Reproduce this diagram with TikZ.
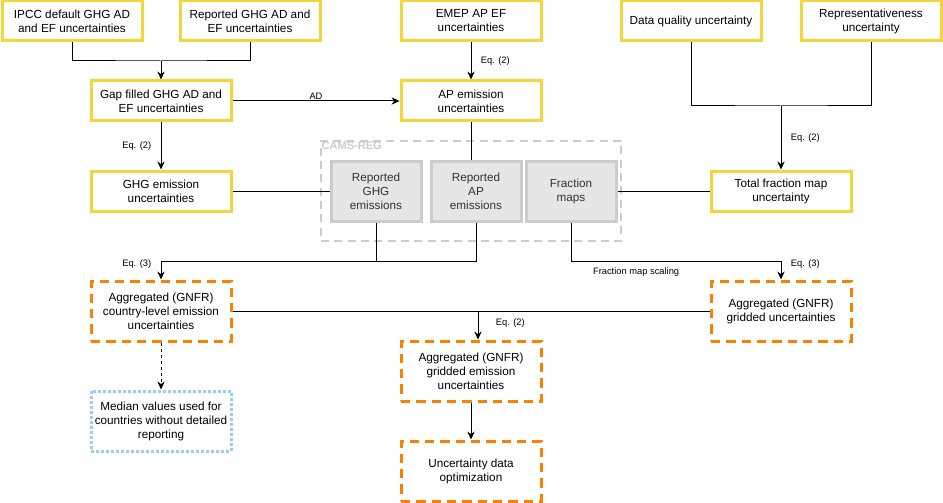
\documentclass[tikz,border=0pt]{standalone}
\usepackage{fontspec}
\setmainfont{Liberation Sans}
\usetikzlibrary{arrows.meta, positioning, calc}
\definecolor{unyellow}{HTML}{F5D63A}
\definecolor{unorange}{HTML}{FF8000}
\definecolor{unblue}{HTML}{99CCFF}
\definecolor{ungray}{HTML}{CCCCCC}
\definecolor{unlightgray}{HTML}{E6E6E6}
\definecolor{undarkgray}{HTML}{333333}

\begin{document}
\begin{tikzpicture}[
  x=0.75pt, y=-0.75pt,
  every node/.style={font=\fontsize{8.8}{10.5}\selectfont},
  inbox/.style={rectangle, draw=unyellow, line width=2.25pt, fill=white, minimum width=105pt, minimum height=30pt, align=center, inner sep=1pt},
  regbox/.style={rectangle, draw=ungray, line width=2.25pt, fill=unlightgray, minimum width=67.5pt, minimum height=45pt, align=center, inner sep=1pt, text=undarkgray},
  outbox/.style={rectangle, draw=unorange, line width=2.25pt, dash pattern=on 7pt off 4.5pt, fill=white, minimum width=105pt, minimum height=45pt, align=center, inner sep=1pt},
  medbox/.style={rectangle, draw=unblue, line width=2.25pt, dash pattern=on 2.25pt off 1.5pt, fill=white, minimum width=105pt, minimum height=45pt, align=center, inner sep=1pt},
  groupbox/.style={rectangle, draw=ungray, line width=1.5pt, dash pattern=on 6pt off 4pt, minimum width=225pt, minimum height=75pt},
  link/.style={line width=0.75pt},
  arr/.style={link, -{Stealth[length=6pt, width=5.5pt]}},
  eqlabel/.style={font=\fontsize{7}{8}\selectfont, inner sep=1pt},
]
\useasboundingbox (0,0) rectangle (943,503);

% CAMS-REG group
\node[groupbox] (camsreg) at (471,191) {};
\node[anchor=north west, inner sep=1pt, text=ungray, font=\fontsize{8.3}{10}\selectfont\bfseries] (camslabel) at (camsreg.north west) {CAMS-REG};

% input uncertainties
\node[inbox] (ipcc) at (72,21) {IPCC default GHG AD\\and EF uncertainties};
\node[inbox] (repghg) at (250,21) {Reported GHG AD and\\EF uncertainties};
\node[inbox] (emep) at (471,21) {EMEP AP EF\\uncertainties};
\node[inbox] (dq) at (691,21) {Data quality uncertainty};
\node[inbox] (repr) at (871,21) {Representativeness\\uncertainty};
\node[inbox] (gap) at (161,101) {Gap filled GHG AD and\\EF uncertainties};
\node[inbox] (apunc) at (471,101) {AP emission\\uncertainties};
\node[inbox] (ghgunc) at (161,191) {GHG emission\\uncertainties};
\node[inbox] (fracunc) at (781,191) {Total fraction map\\uncertainty};

% inventory data
\node[regbox] (repghgem) at (376,191) {Reported\\GHG\\emissions};
\node[regbox] (repapem) at (476,191) {Reported\\AP\\emissions};
\node[regbox] (fracmaps) at (571,191) {Fraction\\maps};

% outputs
\node[outbox] (aggcty) at (161,311) {Aggregated (GNFR)\\country-level emission\\uncertainties};
\node[medbox] (median) at (161,421) {Median values used for\\countries without detailed\\reporting};
\node[outbox] (agggrid) at (781,311) {Aggregated (GNFR)\\gridded uncertainties};
\node[outbox] (aggem) at (471,371) {Aggregated (GNFR)\\gridded emission\\uncertainties};
\node[outbox] (optim) at (471,471) {Uncertainty data\\optimization};

% junctions
\coordinate (ghgjoin) at (161,61);
\coordinate (fracjoin) at (781,106);
\coordinate (emjoin) at (161,261);
\coordinate (fmjoin) at (781,261);
\coordinate (gridjoin) at (478,311);

% connectors
\draw[link] (ipcc.south) |- (ghgjoin) -| (repghg.south);
\draw[arr] (ghgjoin) -- (gap);
\draw[arr] (gap) -- node[above, eqlabel] {AD} (apunc);
\draw[arr] (emep) -- node[right=6pt, eqlabel] {Eq. (2)} (apunc);
\draw[arr] (gap) -- node[left=6pt, eqlabel] {Eq. (2)} (ghgunc);
\draw[link] (ghgunc) -- (repghgem);
\draw[link] (apunc.south) -- (apunc.south |- repapem.north);
\draw[link] (fracmaps) -- (fracunc);

\draw[link] (dq.south) |- (fracjoin) -| (repr.south);
\draw[arr] (fracjoin) -- node[right=6pt, eqlabel] {Eq. (2)} (fracunc);

\draw[link] (repghgem.south) -- (repghgem.south |- emjoin);
\draw[link] (repapem.south) |- (emjoin);
\draw[arr] (emjoin) -- node[pos=0.15, left=6pt, eqlabel] {Eq. (3)} (aggcty);

\draw[link] (fracmaps.south) |- node[pos=0.655, below=4pt, eqlabel] {Fraction map scaling} (fmjoin);
\draw[arr] (fmjoin) -- node[pos=0.15, right=6pt, eqlabel] {Eq. (3)} (agggrid);

\draw[link] (aggcty) -- (agggrid);
\draw[arr] (gridjoin) -- node[pos=0.43, right=12pt, eqlabel] {Eq. (2)} (gridjoin |- aggem.north);

\draw[arr, dash pattern=on 2.25pt off 2.25pt] (aggcty) -- (median);
\draw[arr] (aggem) -- (optim);

\end{tikzpicture}
\end{document}
